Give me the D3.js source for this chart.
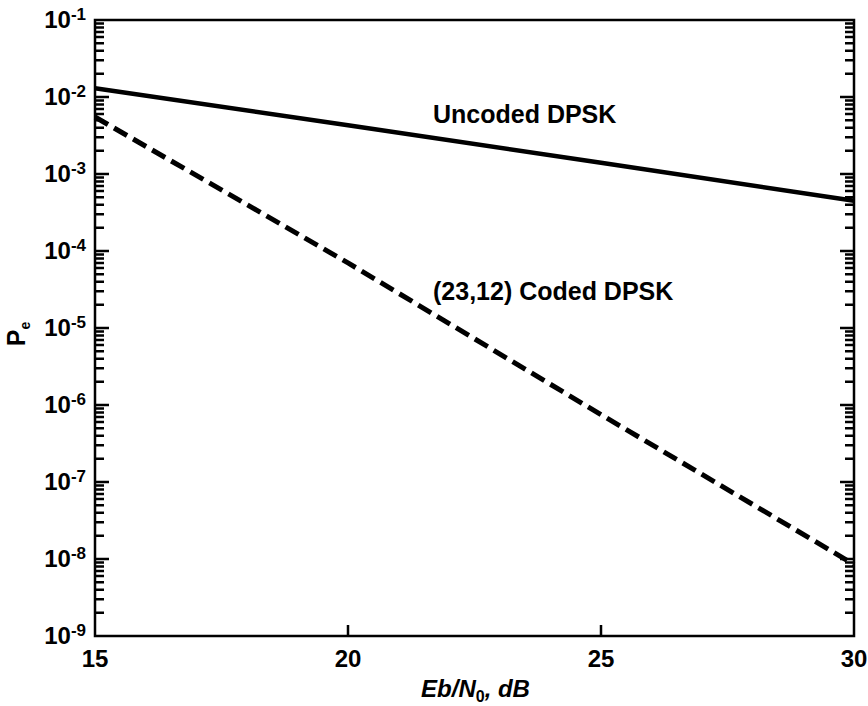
<!DOCTYPE html>
<html>
<head>
<meta charset="utf-8">
<script src="https://cdn.jsdelivr.net/npm/d3@7"></script>
<style>
  html, body { margin: 0; padding: 0; background: #fff; }
  svg { display: block; font-family: "Liberation Sans", Arial, sans-serif; }
</style>
</head>
<body>
<script>
// ---- data ----
const ebn0 = [15, 20, 25, 30];
const uncodedPe = [1.3e-2, 4.3e-3, 1.4e-3, 4.5e-4];
const codedPe = [5.5e-3, 7.0e-5, 7.5e-7, 8.5e-9];
const xTickValues = [15, 20, 25, 30];
const yExponents = [-1, -2, -3, -4, -5, -6, -7, -8, -9];
const seriesLabels = ["Uncoded DPSK", "(23,12) Coded DPSK"];

const W = 868, H = 706;
const m = { left: 95, right: 14, top: 20, bottom: 70 };

const svg = d3.select("body").append("svg").attr("width", W).attr("height", H);

const x = d3.scaleLinear().domain([15, 30]).range([m.left, W - m.right]);
const y = d3.scaleLog().domain([1e-9, 1e-1]).range([H - m.bottom, m.top]);

const xL = x(15), xR = x(30);
const yB = y(1e-9), yT = y(1e-1);

// frame + inward ticks as one path
const majors = yExponents.map(e => Math.pow(10, e));
const minors = [];
for (let e = -9; e < -1; e++) {
  for (let k = 2; k <= 9; k++) minors.push(k * Math.pow(10, e));
}
const yTicks = majors.map(v => [v, 14]).concat(minors.map(v => [v, 9]));

const fp = d3.path();
fp.moveTo(xL, yT); fp.lineTo(xR, yT); fp.lineTo(xR, yB); fp.lineTo(xL, yB); fp.closePath();
yTicks.forEach(([v, len]) => {
  const yy = y(v);
  fp.moveTo(xL, yy); fp.lineTo(xL + len, yy);
  fp.moveTo(xR, yy); fp.lineTo(xR - len, yy);
});
[20, 25].forEach(v => { fp.moveTo(x(v), yB); fp.lineTo(x(v), yB - 11); });

svg.append("path").attr("d", fp.toString())
  .attr("fill", "none").attr("stroke", "#000").attr("stroke-width", 2.5);

// y tick labels
const yl = svg.append("g").attr("fill", "#000").attr("font-weight", "bold");
yExponents.forEach(e => {
  const t = yl.append("text")
    .attr("x", 86).attr("y", y(Math.pow(10, e)) + 8)
    .attr("text-anchor", "end").attr("font-size", 24);
  t.append("tspan").text("10");
  t.append("tspan").attr("font-size", 17).attr("dy", -8).text("-" + Math.abs(e));
});

// x tick labels
svg.append("g").selectAll("text").data(xTickValues).join("text")
  .attr("x", d => x(d)).attr("y", yB + 31)
  .attr("text-anchor", "middle").attr("font-size", 24).attr("font-weight", "bold")
  .attr("fill", "#000")
  .text(d => d);

// x title
const xt = svg.append("text")
  .attr("x", (xL + xR) / 2 + 1).attr("y", 697)
  .attr("text-anchor", "middle").attr("font-size", 24).attr("font-style", "italic")
  .attr("font-weight", "bold");
xt.append("tspan").text("Eb/N");
xt.append("tspan").attr("font-size", 16).attr("dy", 5).attr("font-style", "normal").text("0");
xt.append("tspan").attr("dy", -5).text(", dB");

// y title
const yt = svg.append("text")
  .attr("transform", `translate(25,${(yB + yT) / 2 + 6}) rotate(-90)`)
  .attr("text-anchor", "middle").attr("font-size", 25).attr("font-weight", "bold");
yt.append("tspan").text("P");
yt.append("tspan").attr("font-size", 14).attr("dy", 5).text("e");

// lines
const line = d3.line().x((d, i) => x(ebn0[i])).y(d => y(d));
svg.append("path").datum(uncodedPe)
  .attr("d", line).attr("fill", "none").attr("stroke", "#000").attr("stroke-width", 4.5);
svg.append("path").datum(codedPe)
  .attr("d", line).attr("fill", "none").attr("stroke", "#000").attr("stroke-width", 5)
  .attr("stroke-dasharray", "15,7");

// series labels
svg.append("text").attr("x", 433).attr("y", 123).attr("font-size", 25)
  .attr("font-weight", "bold").text(seriesLabels[0]);
svg.append("text").attr("x", 433).attr("y", 300).attr("font-size", 25)
  .attr("font-weight", "bold").text(seriesLabels[1]);
</script>
</body>
</html>
